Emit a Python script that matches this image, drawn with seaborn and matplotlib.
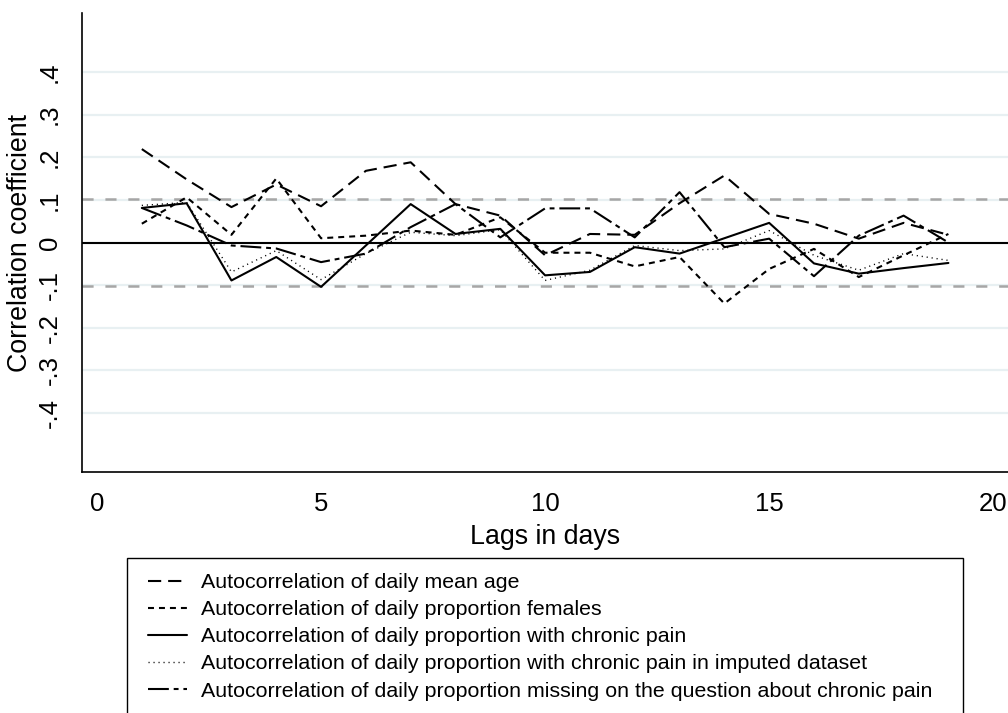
import matplotlib
matplotlib.use("Agg")
import matplotlib.pyplot as plt
from matplotlib.patches import Rectangle
import seaborn as sns
import numpy as np
import pandas as pd

# ---- data ----
lags = list(range(1, 20))
mean_age = [0.219, 0.148, 0.083, 0.136, 0.085, 0.168, 0.188, 0.090, 0.063, -0.030,
            0.020, 0.018, 0.092, 0.157, 0.067, 0.044, 0.009, 0.046, 0.018]
females = [0.044, 0.106, 0.018, 0.150, 0.010, 0.016, 0.028, 0.018, 0.059, -0.024,
           -0.024, -0.056, -0.034, -0.143, -0.062, -0.015, -0.081, -0.030, 0.020]
chronic = [0.081, 0.092, -0.089, -0.034, -0.104, -0.007, 0.090, 0.020, 0.032, -0.077,
           -0.069, -0.011, -0.026, 0.010, 0.046, -0.049, -0.073, -0.060, -0.048]
imputed = [0.087, 0.094, -0.069, -0.019, -0.087, -0.026, 0.024, 0.016, 0.030, -0.089,
           -0.065, -0.007, -0.019, -0.015, 0.028, -0.030, -0.065, -0.026, -0.042]
missing = [0.081, 0.040, -0.007, -0.014, -0.046, -0.026, 0.036, 0.090, 0.012, 0.080,
           0.080, 0.012, 0.118, -0.011, 0.009, -0.079, 0.016, 0.063, 0.000]
series_labels = [
    "Autocorrelation of daily mean age",
    "Autocorrelation of daily proportion females",
    "Autocorrelation of daily proportion with chronic pain",
    "Autocorrelation of daily proportion with chronic pain in imputed dataset",
    "Autocorrelation of daily proportion missing on the question about chronic pain",
]
conf_bound = 0.1026
yticks = [-0.4, -0.3, -0.2, -0.1, 0, 0.1, 0.2, 0.3, 0.4]
ytick_labels = ["-.4", "-.3", "-.2", "-.1", "0", ".1", ".2", ".3", ".4"]
xticks = [0, 5, 10, 15, 20]

# ---- style ----
sns.set_style("white")
plt.rcParams["font.family"] = ["Liberation Sans", "DejaVu Sans"]
plt.rcParams["lines.scale_dashes"] = False
for key in ("text.color", "axes.labelcolor", "xtick.color", "ytick.color"):
    plt.rcParams[key] = "black"

W, H = 1008, 713
fig = plt.figure(figsize=(W / 100, H / 100), dpi=100)
ax = fig.add_axes([82 / W, 1 - 472 / H, 1 - 82 / W, (472 - 13) / H])

# grid lines
for yt in yticks:
    ax.axhline(yt, color="#e8f0f2", lw=1.6, zorder=0)
ax.axhline(0, color="black", lw=1.5, zorder=1)
for b in (conf_bound, -conf_bound):
    ax.axhline(b, color="#a6a6a6", lw=1.8, linestyle=(0, (8, 8.5)), zorder=1)

styles = [
    dict(linestyle=(0, (9.5, 5)), lw=1.5),
    dict(linestyle=(0, (4.3, 3.6)), lw=1.5),
    dict(linestyle="-", lw=1.5),
    dict(linestyle=(0, (0.8, 2.8)), lw=1.0),
    dict(linestyle=(0, (15, 3.5, 3.5, 3.5)), lw=1.5),
]
all_series = [mean_age, females, chronic, imputed, missing]
for vals, lab, st in zip(all_series, series_labels, styles):
    df = pd.DataFrame({"lag": lags, "r": vals})
    sns.lineplot(data=df, x="lag", y="r", ax=ax, color="black", label=lab,
                 legend=False, zorder=3, **st)

ax.set_xlim(-0.335, 20.33)
ax.set_ylim(-0.538, 0.538)
ax.set_xticks(xticks)
ax.set_xticklabels([str(x) for x in xticks], fontsize=18.5)
ax.set_yticks(yticks)
ax.set_yticklabels(ytick_labels, fontsize=18.5, rotation=90, va="center")
ax.tick_params(axis="both", direction="out", length=6.5, width=1, color="black")
ax.tick_params(axis="y", pad=8)
ax.tick_params(axis="x", pad=8)
ax.set_xlabel("Lags in days", fontsize=19.3, labelpad=6)
ax.set_ylabel("Correlation coefficient", fontsize=19.3)
ax.yaxis.set_label_coords((33 - 82) / (W - 82), 0.5)
for s in ("top", "right"):
    ax.spines[s].set_visible(False)
for s in ("left", "bottom"):
    ax.spines[s].set_color("black")
    ax.spines[s].set_linewidth(1.2)
ax.grid(False)

# legend box (drawn separately so padding can match)
fig.patches.append(Rectangle((127 / W, -0.01), (963 - 127) / W, 1 - 558 / H + 0.01,
                             transform=fig.transFigure, facecolor="white",
                             edgecolor="black", lw=1.0, zorder=0))
lines = ax.get_lines()[-5:]
leg = fig.legend(lines, series_labels, loc="upper left",
                 bbox_to_anchor=(148 / W, 1 - 573 / H),
                 bbox_transform=fig.transFigure, borderaxespad=0,
                 frameon=False, fontsize=15.4, handlelength=1.84,
                 handletextpad=0.64, borderpad=0, labelspacing=0.38)

fig.savefig("out.png", dpi=100, facecolor="white")
